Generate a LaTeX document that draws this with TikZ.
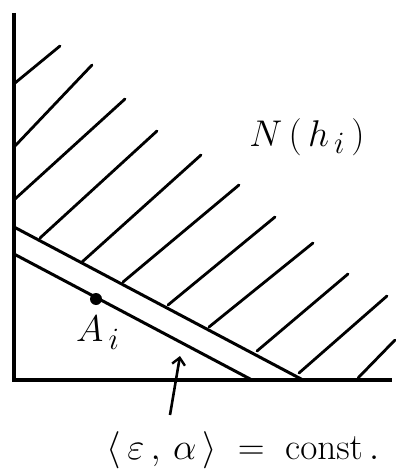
\documentclass[tikz,border=0pt]{standalone}
\usetikzlibrary{arrows.meta}
\begin{document}
\begin{tikzpicture}[x=1bp,y=-1bp,
  axis/.style={line width=3.2bp},
  bound/.style={line width=3bp},
  hatch/.style={line width=2.8bp, line cap=round},
  lbl/.style={inner sep=0pt, font=\Huge, scale=1.5},
  pointer/.style={line width=2.6bp, -{Straight Barb[length=7bp,width=13bp,line width=2.4bp]}}]
\useasboundingbox (0,0) rectangle (395,469);
% axes
\coordinate (O) at (14,380);
\coordinate (ytop) at (14,13);
\coordinate (xend) at (392,380);
\draw[axis] (ytop) -- (O) -- (xend);
% boundary lines
\coordinate (u1) at (14,227);
\coordinate (u2) at (303,380);
\coordinate (l1) at (14,254);
\coordinate (l2) at (252,380);
\draw[bound] (u1) -- (u2);
\draw[bound] (l1) -- (l2);
% hatching
\foreach \a/\b/\c/\d in {15/83/60/46, 15/146/92/65, 15/199/125/99, 40/238/157/131,
  82/262/201/155, 123/282/239/185, 168/305/275/217, 209/327/313/243,
  257/351/348/274, 299/373/387/296, 358/378/395/340}{
  \draw[hatch] (\a,\b) -- (\c,\d);
}
% point
\fill (96,299) circle (6bp) coordinate (A);
\node[lbl] (Alabel) at (98,333) {$A_{\,i}$};
\node[lbl] (N) at (307,137) {$N\,(\,h_{\,i}\,)$};
\node[lbl] (eq) at (243,450) {$\langle\,\varepsilon\,,\,\alpha\,\rangle \;=\; \mathrm{const}\,.$};
\coordinate (tip) at (180,356);
\coordinate (tail) at (170,415);
\draw[pointer] (tail) -- (tip);
\end{tikzpicture}
\end{document}
